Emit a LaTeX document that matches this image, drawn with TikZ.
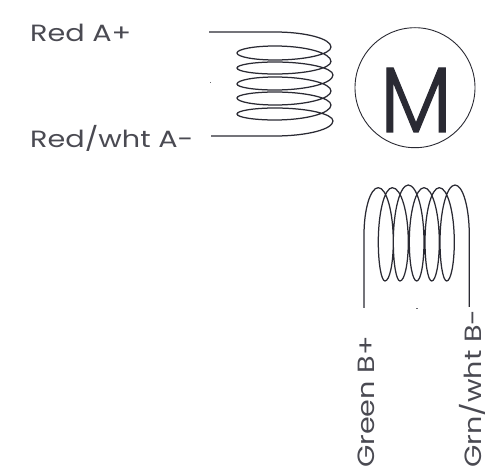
\documentclass[tikz,border=0pt]{standalone}
\usepackage{fontspec}
\setmainfont{Poppins}[FakeStretch=1.22]
\newfontfamily\mfont{Poppins}[UprightFont=* Light,FakeStretch=0.92,FakeBold=1.2]
\definecolor{ink}{HTML}{2A2A33}
\tikzset{
  coilwire/.style={draw=ink,line width=1.25pt,line cap=butt,line join=round},
  lbl/.style={inner sep=0pt,text=ink!85,anchor=base west,font=\fontsize{23.5}{26}\selectfont},
  lblr/.style={lbl,rotate=90},
}
\newcommand{\hq}[4]{.. controls ({#1+0.55*(#3-(#1))},#2) and (#3,{#4+0.55*(#2-(#4))}) .. (#3,#4)}
\newcommand{\vq}[4]{.. controls (#1,{#2+0.55*(#4-(#2))}) and ({#3+0.55*(#1-(#3))},#4) .. (#3,#4)}
\begin{document}
\begin{tikzpicture}[x=1pt,y=-1pt]
\useasboundingbox (0,0) rectangle (493,473);
% horizontal coil
\coordinate (ha) at (209,32);
\coordinate (hb) at (211,136);
\draw[coilwire] (ha) -- (275,32)
 \hq{275}{32}{331}{47} \vq{331}{47}{275}{60} \hq{275}{60}{237}{53} \vq{237}{53}{275}{46}
 \hq{275}{46}{331}{61.5} \vq{331}{61.5}{275}{74} \hq{275}{74}{237}{68} \vq{237}{68}{275}{62}
 \hq{275}{62}{333}{75} \vq{333}{75}{275}{90} \hq{275}{90}{237}{84} \vq{237}{84}{275}{77}
 \hq{275}{77}{331}{91} \vq{331}{91}{275}{105} \hq{275}{105}{237}{98} \vq{237}{98}{275}{92}
 \hq{275}{92}{331}{105} \vq{331}{105}{275}{120} \hq{275}{120}{237}{114} \vq{237}{114}{275}{108}
 \hq{275}{108}{333}{121} \vq{333}{121}{275}{136} -- (hb);
% vertical coil
\coordinate (va) at (364,308);
\coordinate (vb) at (469.3,307);
\draw[coilwire] (va) -- (364,235)
 \vq{364}{235}{378.3}{187.7} \hq{378.3}{187.7}{393.3}{242} \vq{393.3}{242}{385}{281} \hq{385}{281}{378.3}{242} \vq{378.3}{242}{392.3}{187.7}
 \hq{392.3}{187.7}{408.3}{242} \vq{408.3}{242}{400}{281} \hq{400}{281}{393.3}{242} \vq{393.3}{242}{408.3}{185}
 \hq{408.3}{185}{424}{242} \vq{424}{242}{416.7}{281} \hq{416.7}{281}{409.3}{242} \vq{409.3}{242}{424}{187.7}
 \hq{424}{187.7}{439.3}{242} \vq{439.3}{242}{431.7}{281} \hq{431.7}{281}{425}{242} \vq{425}{242}{439.3}{187.7}
 \hq{439.3}{187.7}{454.3}{242} \vq{454.3}{242}{446.7}{281} \hq{446.7}{281}{440}{242} \vq{440}{242}{455}{185}
 \hq{455}{185}{469.3}{235} -- (vb);
% stray marks
\fill[ink!70] (209.5,82.5) rectangle (210.5,83.5);
\fill[ink!70] (416,307.6) rectangle (418,308.6);
% motor
\node[circle,draw=ink,line width=0.9pt,minimum size=120pt,inner sep=0pt] (motor) at (415,87.7) {};
\node[inner sep=0pt,text=ink,anchor=base] (mletter) at (416,132) {\mfont\fontsize{93}{93}\selectfont M};
% labels
\node[lbl] (redp) at (30,41.7) {Red A+};
\node[lbl] (redm) at (30,148) {Red/wht A-};
\node[lblr] (grnp) at (374,468) {Green B+};
\node[lblr] (grnm) at (481,468) {Grn/wht B-};
\end{tikzpicture}
\end{document}
